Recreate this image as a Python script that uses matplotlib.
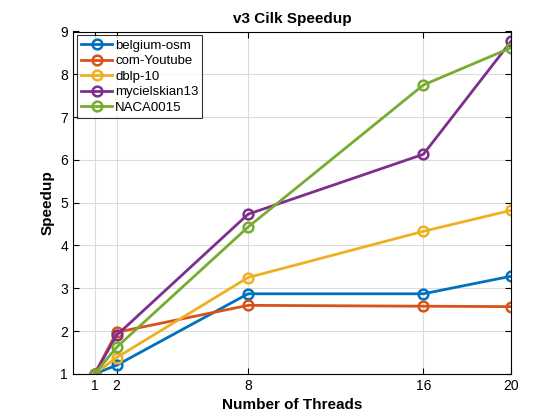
import matplotlib.pyplot as plt

plt.rcParams['font.family'] = ['Liberation Sans', 'DejaVu Sans']

threads = [1, 2, 8, 16, 20]
belgium_osm = [1.0, 1.2, 2.87, 2.87, 3.28]
com_youtube = [1.0, 1.97, 2.6, 2.58, 2.57]
dblp_10 = [1.0, 1.38, 3.25, 4.33, 4.82]
mycielskian13 = [1.0, 1.9, 4.73, 6.13, 8.77]
naca0015 = [1.0, 1.62, 4.43, 7.75, 8.62]

series = [
    ('belgium-osm', belgium_osm, '#0072BD'),
    ('com-Youtube', com_youtube, '#D95319'),
    ('dblp-10', dblp_10, '#EDB120'),
    ('mycielskian13', mycielskian13, '#7E2F8E'),
    ('NACA0015', naca0015, '#77AC30'),
]

fig = plt.figure(figsize=(5.6, 4.2), dpi=100)
ax = fig.add_axes([0.13, 0.11, 0.7825, 0.815])

for name, vals, col in series:
    ax.plot(threads, vals, '-o', color=col, lw=2, ms=7, mfc='none', mew=1.8, label=name)

ax.set_xlim(0, 20)
ax.set_ylim(1, 9)
ax.set_xticks(threads)
ax.set_yticks(range(1, 10))
ax.grid(True, color='#dcdcdc', lw=0.8)
ax.set_axisbelow(True)
ax.tick_params(direction='in', labelsize=10, top=True, right=True, length=4)
for s in ax.spines.values():
    s.set_linewidth(0.8)

ax.set_title('v3 Cilk Speedup', fontsize=11, fontweight='bold')
ax.set_xlabel('Number of Threads', fontsize=11, fontweight='bold')
ax.set_ylabel('Speedup', fontsize=11, fontweight='bold')

leg = ax.legend(loc='upper left', fontsize=9.5, fancybox=False, edgecolor='black',
                borderaxespad=0.3, handlelength=2.4, handletextpad=0.2,
                labelspacing=0.25, borderpad=0.3)
leg.get_frame().set_linewidth(0.8)

fig.savefig('out.png', dpi=100)
